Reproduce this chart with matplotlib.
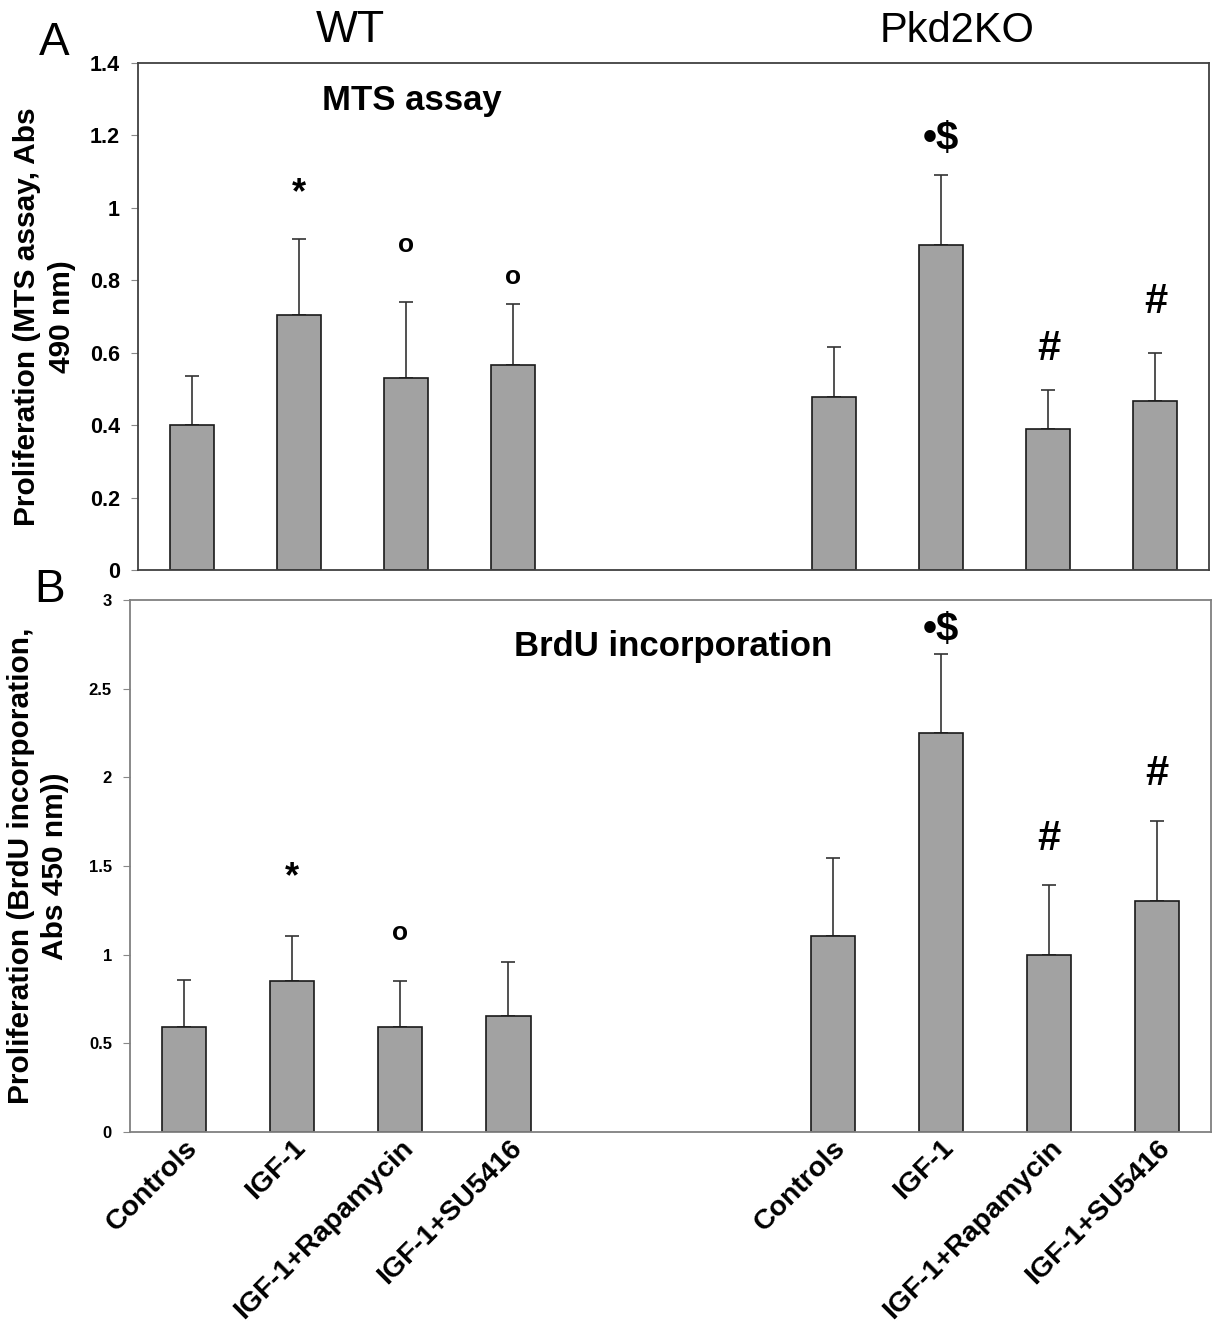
import matplotlib
matplotlib.use("Agg")
import matplotlib.pyplot as plt
import numpy as np

plt.rcParams['font.family'] = ['Liberation Sans', 'DejaVu Sans']

# data
groups = ["Controls", "IGF-1", "IGF-1+Rapamycin", "IGF-1+SU5416"]
positions = [0, 1, 2, 3, 6, 7, 8, 9]
tick_labels = groups + groups

mts_mean = [0.40, 0.703, 0.531, 0.565, 0.478, 0.898, 0.39, 0.467]
mts_err = [0.137, 0.212, 0.209, 0.169, 0.138, 0.193, 0.107, 0.133]
mts_marks = ["", "*", "o", "o", "", "•\\$", "#", "#"]
mts_mark_y = [0, 1.04, 0.898, 0.81, 0, 1.19, 0.61, 0.74]

brdu_mean = [0.59, 0.852, 0.59, 0.652, 1.105, 2.252, 0.996, 1.304]
brdu_err = [0.267, 0.251, 0.262, 0.305, 0.439, 0.442, 0.399, 0.448]
brdu_marks = ["", "*", "o", "", "", "•\\$", "#", "#"]
brdu_mark_y = [0, 1.434, 1.12, 0, 0, 2.83, 1.65, 2.02]

mark_size = {"*": 26, "o": 19, "#": 30, "•\\$": 29}

fig = plt.figure(figsize=(12.12, 13.34), dpi=100)
ax1 = fig.add_axes([0.1139, 0.5727, 0.8836, 0.3801])
ax2 = fig.add_axes([0.1073, 0.1514, 0.8919, 0.3988])


def draw(ax, mean, err, marks, mark_y, spine_col):
    ax.bar(positions, mean, width=0.41, color="#a2a2a2", edgecolor="#1a1a1a",
           linewidth=1.2, zorder=2)
    ax.errorbar(positions, mean, yerr=[np.zeros(len(err)), err], fmt="none",
                ecolor="#333333", elinewidth=1.2, capsize=5, capthick=1.2, zorder=1)
    for x, m, y in zip(positions, marks, mark_y):
        if m == "":
            continue
        ax.text(x, y, m, ha="center", va="center", fontsize=mark_size[m],
                fontweight="bold", color="black")
    ax.set_xlim(-0.5, 9.5)
    for s in ax.spines.values():
        s.set_color(spine_col)
        s.set_linewidth(1.3)
    ax.tick_params(axis="x", length=0)
    ax.tick_params(axis="y", direction="out", length=5, color="#888888", pad=8)


# panel A
draw(ax1, mts_mean, mts_err, mts_marks, mts_mark_y, "#404040")
ax1.set_ylim(0, 1.4)
ax1.set_yticks([0, 0.2, 0.4, 0.6, 0.8, 1, 1.2, 1.4])
ax1.set_yticklabels(["0", "0.2", "0.4", "0.6", "0.8", "1", "1.2", "1.4"],
                    fontweight="bold", fontsize=15.5)
ax1.set_xticks([])
ax1.set_ylabel("Proliferation (MTS assay, Abs\n490 nm)", fontsize=21.5,
               fontweight="bold", labelpad=10, linespacing=1.3)
ax1.text(2.06, 1.295, "MTS assay", ha="center", va="center", fontsize=25,
         fontweight="bold")

# panel B
draw(ax2, brdu_mean, brdu_err, brdu_marks, brdu_mark_y, "#808080")
ax2.set_ylim(0, 3)
ax2.set_yticks([0, 0.5, 1, 1.5, 2, 2.5, 3])
ax2.set_yticklabels(["0", "0.5", "1", "1.5", "2", "2.5", "3"],
                    fontweight="bold", fontsize=12)
ax2.set_xticks(positions)
ax2.set_xticklabels(tick_labels, rotation=45, ha="right", rotation_mode="anchor",
                    fontsize=20.5, fontweight="bold")
ax2.tick_params(axis="x", pad=2)
ax2.set_ylabel("Proliferation (BrdU incorporation,\nAbs 450 nm))", fontsize=21.5,
               fontweight="bold", labelpad=14, linespacing=1.3)
ax2.text(4.52, 2.74, "BrdU incorporation", ha="center", va="center",
         fontsize=25, fontweight="bold")

fig.text(0.045, 0.968, "A", fontsize=33, ha="center", va="center")
fig.text(0.041, 0.558, "B", fontsize=33, ha="center", va="center")
fig.text(0.289, 0.977, "WT", fontsize=32, ha="center", va="center")
fig.text(0.79, 0.977, "Pkd2KO", fontsize=30, ha="center", va="center")

fig.savefig("out.png", dpi=100, facecolor="white")
